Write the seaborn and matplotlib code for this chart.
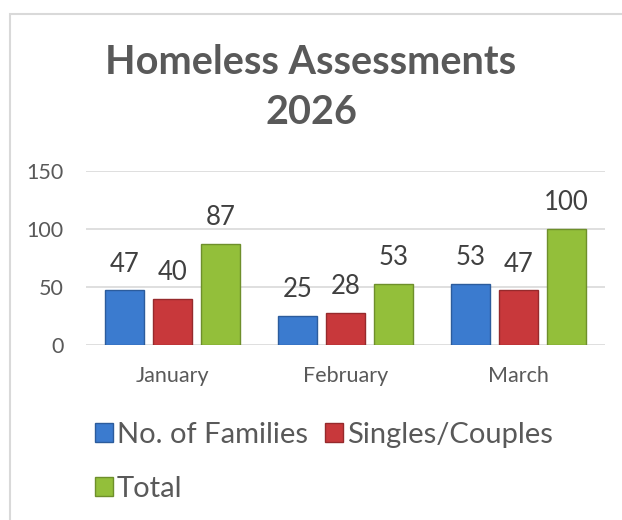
import matplotlib
matplotlib.use("Agg")
import matplotlib.pyplot as plt
from matplotlib.patches import Patch, Rectangle
import seaborn as sns
import pandas as pd

months = ["January", "February", "March"]
series = ["No. of Families", "Singles/Couples", "Total"]
families = [47, 25, 53]
singles = [40, 28, 47]
totals = [87, 53, 100]
y_ticks = [0, 50, 100, 150]

colors = ["#3b7bcf", "#c8383b", "#93bf3a"]
edges = ["#2c5c9c", "#962a2c", "#6e8f2b"]

rows = []
for name, vals in zip(series, [families, singles, totals]):
    for m, v in zip(months, vals):
        rows.append({"Month": m, "Series": name, "Value": v})
df = pd.DataFrame(rows)

sns.set_theme(style="white")
plt.rcParams["font.family"] = ["Lato", "DejaVu Sans"]

fig = plt.figure(figsize=(6.22, 5.2), dpi=100)
ax = fig.add_axes([86 / 622, 1 - 345 / 520, (605 - 86) / 622, (345 - 171) / 520])

sns.barplot(data=df, x="Month", y="Value", hue="Series", order=months,
            hue_order=series, palette=colors, width=0.83, gap=0.2,
            ax=ax, legend=False, saturation=1)

for cont, ec in zip(ax.containers, edges):
    for bar in cont:
        bar.set_edgecolor(ec)
        bar.set_linewidth(1.0)
    ax.bar_label(cont, fmt="%d", padding=10, fontsize=18.5, color="#404040")

ax.set_ylim(0, 150)
ax.set_yticks(y_ticks)
ax.yaxis.grid(True, color="#d9d9d9", linewidth=1.2)
ax.set_axisbelow(True)
for s in ax.spines.values():
    s.set_visible(False)
ax.set_xlabel("")
ax.set_ylabel("")
ax.tick_params(axis="both", length=0, labelsize=15.5, colors="#595959")
ax.tick_params(axis="y", pad=16)
ax.tick_params(axis="x", pad=15)

fig.text(0.5, 1 - 62 / 520, "Homeless Assessments", ha="center", va="center",
         fontsize=28.5, fontweight="bold", color="#595959")
fig.text(0.5, 1 - 113 / 520, "2026", ha="center", va="center",
         fontsize=28.5, fontweight="bold", color="#595959")

handles = [Patch(facecolor=c, edgecolor=e) for c, e in zip(colors, edges)]
order = [0, 2, 1]
fig.legend([handles[i] for i in order], [series[i] for i in order],
           ncol=2, loc="upper left", bbox_to_anchor=(95 / 622, 1 - 422 / 520),
           frameon=False, fontsize=21, labelcolor="#595959",
           handlelength=0.6, handleheight=0.6, handletextpad=0.15,
           labelspacing=0.95, columnspacing=0.6, borderaxespad=0, borderpad=0)

fig.patches.append(Rectangle((9.5 / 622, -0.1), 1.2, 1.1 - 14.5 / 520 + 0.0,
                             transform=fig.transFigure, fill=False,
                             edgecolor="#d9d9d9", linewidth=1.5))

fig.savefig("out.png", dpi=100)
